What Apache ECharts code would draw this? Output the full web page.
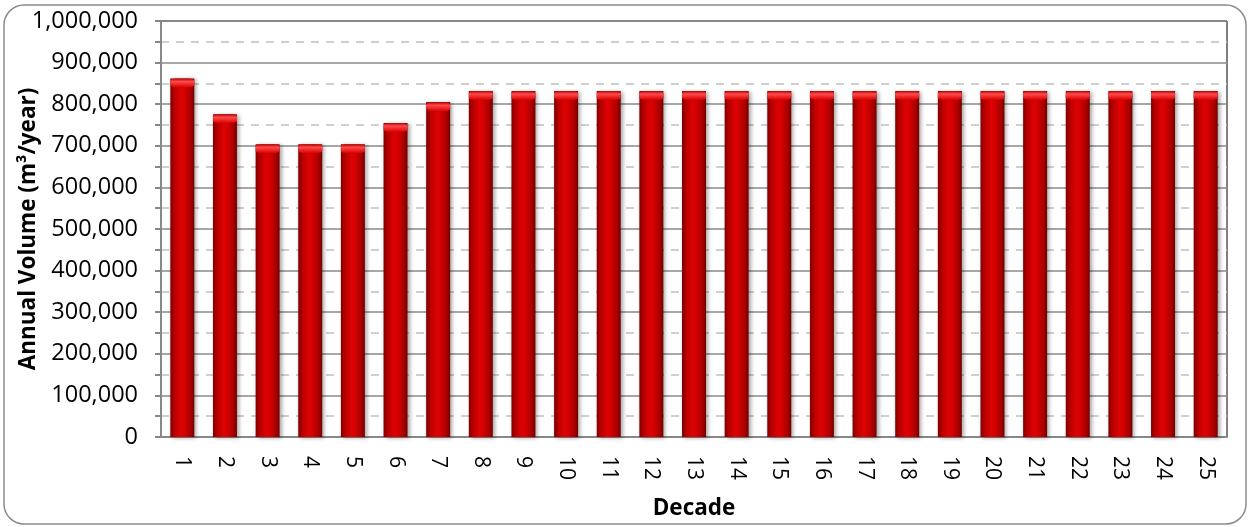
<!DOCTYPE html>
<html>
<head>
<meta charset="utf-8">
<script src="https://cdn.jsdelivr.net/npm/echarts@6/dist/echarts.min.js"></script>
<style>
  html, body { margin: 0; padding: 0; background: #fff; }
  #chart { width: 1249px; height: 527px; }
</style>
</head>
<body>
<div id="chart"></div>
<script>
// Decade index along the horizontal axis
const decades = ['1','2','3','4','5','6','7','8','9','10','11','12','13','14','15','16','17','18','19','20','21','22','23','24','25'];

// Annual volume per decade (m³/year)
const annualVolume = [
  862000, 776000, 704000, 704000, 704000, 755000, 805000, 832000, 832000, 832000,
  832000, 832000, 832000, 832000, 832000, 832000, 832000, 832000, 832000, 832000,
  832000, 832000, 832000, 832000, 832000
];

// Value-axis range and step
const yMin = 0;
const yMax = 1000000;
const yStep = 100000;

const FONT = 'Open Sans';

const chart = echarts.init(document.getElementById('chart'), null, { renderer: 'canvas' });

const barFill = new echarts.graphic.LinearGradient(0, 0, 1, 0, [
  { offset: 0, color: '#7e0000' },
  { offset: 0.18, color: '#b80000' },
  { offset: 0.45, color: '#dc0303' },
  { offset: 0.6, color: '#d40000' },
  { offset: 0.85, color: '#a80000' },
  { offset: 1, color: '#720000' }
]);

const capFill = new echarts.graphic.LinearGradient(0, 0, 0, 1, [
  { offset: 0, color: '#b00000' },
  { offset: 0.35, color: '#ff4a4a' },
  { offset: 1, color: '#d80000' }
]);

chart.setOption({
  animation: false,
  backgroundColor: '#ffffff',
  graphic: [{
    type: 'rect',
    shape: { x: 4, y: 5, width: 1242, height: 519, r: 20 },
    style: { fill: 'none', stroke: '#8c8c8c', lineWidth: 1.5 },
    z: -10,
    silent: true
  }],
  grid: {
    left: 161, right: 22, top: 21, bottom: 90,
    show: true, borderColor: '#000000', borderWidth: 1,
    containLabel: false,
    outerBoundsMode: 'none'
  },
  xAxis: {
    type: 'category',
    data: decades,
    name: 'Decade',
    nameLocation: 'middle',
    nameGap: 60,
    nameMoveOverlap: false,
    nameTextStyle: { fontFamily: FONT, fontSize: 22.5, fontWeight: 'bold', color: '#000' },
    axisLine: { show: true, lineStyle: { color: '#888888', width: 2 } },
    axisTick: { show: false },
    axisLabel: {
      rotate: -90, margin: 19, interval: 0,
      fontFamily: FONT, fontSize: 21, color: '#000'
    },
    splitLine: { show: false }
  },
  yAxis: {
    type: 'value',
    min: yMin, max: yMax, interval: yStep,
    name: 'Annual Volume (m³/year)',
    nameLocation: 'middle',
    nameGap: 121,
    nameMoveOverlap: false,
    nameTextStyle: { fontFamily: FONT, fontSize: 22.5, fontWeight: 'bold', color: '#000' },
    axisLine: { show: true, lineStyle: { color: '#888888', width: 2 } },
    axisTick: { show: true, inside: false, length: 6, lineStyle: { color: '#888888', width: 2 } },
    minorTick: { show: true, splitNumber: 2, length: 6, lineStyle: { color: '#888888', width: 2 } },
    axisLabel: {
      margin: 23, fontFamily: FONT, fontSize: 23.5, color: '#000',
      formatter: v => v.toLocaleString('en-US')
    },
    splitLine: { show: true, lineStyle: { color: '#8a8a8a', width: 1.5 } },
    minorSplitLine: { show: true, lineStyle: { color: '#c0c0c0', width: 1.5, type: [8, 7] } }
  },
  series: [
    {
      type: 'bar',
      data: annualVolume,
      barWidth: 24,
      itemStyle: {
        color: barFill,
        shadowColor: 'rgba(0,0,0,0.35)',
        shadowBlur: 4,
        shadowOffsetX: 2,
        shadowOffsetY: 1
      },
      z: 2
    },
    {
      type: 'pictorialBar',
      data: annualVolume,
      symbol: 'roundRect',
      symbolSize: [24, 9],
      symbolPosition: 'end',
      symbolOffset: [0, 0],
      itemStyle: { color: capFill },
      z: 3,
      silent: true
    }
  ]
});
</script>
</body>
</html>
